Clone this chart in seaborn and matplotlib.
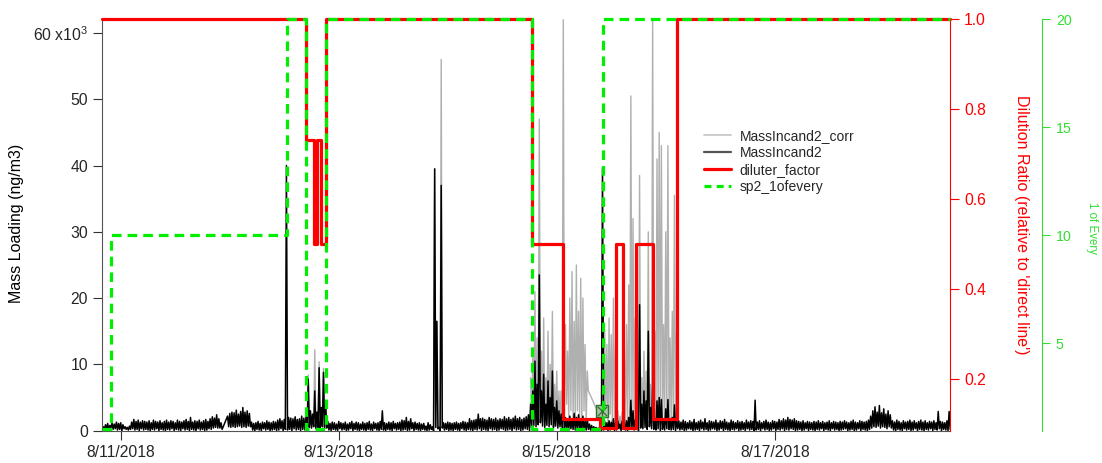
import numpy as np
import pandas as pd
import matplotlib
matplotlib.use("Agg")
import matplotlib.pyplot as plt
from matplotlib.lines import Line2D
import seaborn as sns

nan = np.nan

# ---------------- data ----------------
# mass-loading records, sampled every t_step days after 2018-08-11 00:00
# (hi = sample at t, lo = sample half a step later), values in units of 100 ng/m3
t_start = -0.16
t_step = 0.02

black_hi = [
    6, 9, 11, 8, 12, 10, 13, 11, 12, 9,
    6, 5, 7, 13, 17, 14, 16, 13, 15, 14,
    13, 15, 12, 16, 14, 13, 15, 12, 14, 16,
    13, 15, 14, 12, 16, 14, 13, 15, 17, 14,
    20, 13, 15, 14, 16, 13, 15, 17, 14, 18,
    21, 19, 24, 18, 12, nan, nan, 22, 26, 28,
    27, 31, 25, 29, 35, 28, 30, 26, 13, 11,
    12, 14, 11, 13, 12, 15, 13, 12, 14, 13,
    16, 18, 15, 17, 400, 20, 19, 18, 21, 17,
    18, 22, 19, 21, 78, 30, 25, 60, 28, 95,
    35, 88, 40, 14, 11, 13, 12, 10, 14, 12,
    11, 13, 10, 12, 14, 11, 13, 12, 10, 13,
    11, 12, 14, 10, 13, 11, 12, 14, 30, 12,
    11, 13, 12, 14, 11, 12, 13, 16, 15, 20,
    14, 18, 12, 13, 11, 12, 10, 11, 7, 12,
    9, 6, 395, 165, 5, 370, 12, 11, 13, 12,
    11, 12, 13, 11, 12, 14, 13, 12, 18, 15,
    16, 17, 25, 18, 19, 17, 16, 20, 18, 17,
    19, 16, 18, 17, 21, 18, 20, 17, 19, 22,
    18, 20, 17, 19, 21, 24, 40, 60, 105, 70,
    235, 60, 85, 40, 75, 50, 90, 35, 45, 30,
    25, 55, 20, 15, 22, 18, 26, 20, 24, 15,
    22, 14, 18, 10, 8, 6, 5, 4, 8, 396,
    14, 12, 15, 13, 18, 12, 15, 10, 14, 12,
    15, 20, 46, 30, 16, 25, 190, 40, 60, 45,
    150, 35, 68, 16, 45, 50, 47, 18, 33, 47,
    15, 20, 39, 16, 15, 13, 16, 14, 12, 15,
    13, 17, 12, 14, 16, 13, 18, 12, 15, 14,
    13, 16, 12, 15, 14, 17, 13, 12, 16, 14,
    12, 15, 13, 14, 12, 16, 13, 15, 14, 46,
    13, 15, 12, 14, 16, 13, 12, 15, 14, 13,
    17, 15, 18, 16, 20, 17, 16, 18, 15, 14,
    13, 15, 12, 14, 13, 12, 14, 13, 15, 12,
    14, 12, 13, 15, 12, 14, 13, 12, 14, 13,
    15, 13, 12, 14, 16, 13, 12, 15, 14, 13,
    14, 16, 22, 30, 36, 28, 38, 27, 33, 25,
    30, 24, 15, 13, 16, 14, 12, 15, 13, 14,
    16, 13, 15, 12, 14, 16, 13, 15, 12, 14,
    13, 15, 12, 29, 14, 13, 12, 15, 29,
]
black_lo = [
    2, 3, 1, 4, 2, 3, 1, 2, 0, 3,
    2, 1, 2, 3, 1, 2, 0, 3, 1, 2,
    1, 0, 2, 1, 3, 0, 2, 1, 0, 2,
    1, 3, 0, 2, 1, 0, 3, 1, 2, 0,
    2, 1, 0, 3, 1, 2, 0, 1, 3, 2,
    4, 5, 4, 4, 2, nan, nan, 6, 5, 6,
    5, 6, 7, 5, 6, 5, 7, 6, 1, 0,
    2, 1, 0, 3, 1, 2, 0, 1, 2, 0,
    1, 3, 0, 2, 1, 2, 0, 3, 1, 2,
    0, 2, 1, 3, 5, 4, 6, 3, 5, 4,
    6, 3, 4, 1, 0, 2, 1, 0, 3, 1,
    2, 0, 1, 3, 0, 2, 1, 0, 2, 1,
    0, 2, 1, 0, 3, 1, 0, 2, 1, 0,
    2, 1, 0, 3, 1, 2, 0, 1, 2, 0,
    1, 3, 0, 2, 1, 0, 2, 1, 0, 1,
    2, 0, 5, 3, 0, 4, 1, 2, 0, 1,
    0, 2, 1, 0, 3, 1, 0, 2, 1, 0,
    2, 1, 3, 0, 2, 1, 0, 3, 1, 2,
    0, 1, 3, 2, 0, 1, 2, 0, 3, 1,
    2, 0, 1, 3, 2, 0, 5, 8, 6, 9,
    12, 7, 5, 8, 6, 9, 5, 7, 4, 6,
    3, 2, 4, 1, 3, 2, 1, 3, 2, 1,
    3, 1, 2, 1, 0, 1, 0, 1, 0, 1,
    2, 0, 1, 2, 0, 1, 3, 0, 2, 1,
    0, 2, 3, 1, 2, 0, 4, 3, 5, 2,
    6, 3, 2, 1, 3, 0, 2, 1, 3, 2,
    1, 2, 0, 3, 1, 2, 0, 1, 3, 2,
    0, 1, 2, 0, 3, 1, 2, 0, 1, 3,
    2, 0, 1, 3, 0, 2, 1, 0, 2, 1,
    3, 0, 1, 2, 0, 3, 1, 2, 0, 1,
    2, 0, 3, 1, 2, 0, 1, 3, 0, 2,
    1, 3, 0, 2, 1, 3, 2, 0, 1, 2,
    0, 1, 3, 0, 2, 1, 0, 2, 1, 3,
    0, 2, 1, 0, 3, 1, 2, 0, 1, 2,
    3, 0, 1, 2, 0, 1, 3, 0, 2, 1,
    0, 2, 4, 6, 5, 7, 4, 6, 5, 3,
    6, 4, 1, 0, 2, 1, 0, 3, 1, 2,
    0, 1, 3, 0, 2, 1, 0, 2, 1, 3,
    0, 2, 1, 3, 0, 2, 1, 0, 2,
]

# corrected mass loading where it differs from MassIncand2 (same sampling grid)
corr_a_start = 93
corr_a_hi = [21, 84, 30, 25, 122, 28, 104, 35, 94, 40]
corr_a_lo = [3, 5, 4, 6, 3, 5, 4, 6, 3, 4]
corr_b_start = 151
corr_b_hi = [6, 395, 165, 5, 560, 12]
corr_b_lo = [0, 5, 3, 0, 4, 1]
corr_c_start = 196
corr_c_hi = [
    80, 120, 210, 140,
    470, 120, 170, 80, 150, 100, 180, 70, 90, 60,
    60, 620, 160, 120, 200, 240, 165, 250, 180, 230,
    200, 130, 90, nan, nan, nan, nan, nan, 20, 130,
    150, 130, 170, 145, 200, 135, 30, 22, 28, 130,
    160, 220, 505, 320, 170, 50, 385, 80, 120, 90,
    300, 70, 620, 150, 410, 450, 430, 160, 300, 430,
    140, 180, 355, 150,
]
corr_c_lo = [
    10, 16, 12, 18,
    24, 14, 10, 16, 12, 18, 10, 14, 8, 12,
    20, 25, 40, 15, 30, 20, 12, 30, 20, 10,
    30, 10, 60, nan, nan, nan, nan, nan, 8, 12,
    20, 10, 25, 15, 10, 20, 6, 2, 4, 12,
    10, 25, 30, 12, 20, 6, 8, 5, 10, 4,
    12, 6, 20, 10, 25, 15, 20, 10, 25, 15,
    10, 20, 12, 8,
]

# diluter factor (step changes), days after 2018-08-11
dil_t = [-0.172, 1.700, 1.776, 1.798, 1.838, 1.884, 3.774, 4.055,
         4.397, 4.541, 4.611, 4.725, 4.881, 5.106, 7.608]
dil_v = [1.0, 0.73, 0.5, 0.73, 0.5, 1.0, 0.5, 0.11,
         0.09, 0.5, 0.09, 0.5, 0.11, 1.0, 1.0]

# sp2 "1 of every" setting
sp2_t = [-0.172, -0.089, 1.523, 1.700, 1.884, 3.774, 4.428, 7.608]
sp2_v = [1, 10, 20, 1, 20, 1, 20, 20]

# tag marker
tag_t = [4.413]
tag_v = [2900]

x_range = [-0.172, 7.608]
xtick_days = [0, 2, 4, 6]
xtick_labels = ["8/11/2018", "8/13/2018", "8/15/2018", "8/17/2018"]
mass_ticks = [0, 10000, 20000, 30000, 40000, 50000, 60000]
mass_tick_labels = ["0", "10", "20", "30", "40", "50", r"60 x10$^{3}$"]
mass_range = [0, 62100]
dil_ticks = [0.2, 0.4, 0.6, 0.8, 1.0]
dil_tick_labels = ["0.2", "0.4", "0.6", "0.8", "1.0"]
dil_range = [0.0851, 1.0]
sp2_ticks = [5, 10, 15, 20]
sp2_range = [0.94, 20]

legend_labels = ["MassIncand2_corr", "MassIncand2", "diluter_factor", "sp2_1ofevery"]

# ---------------- helpers ----------------
base = pd.Timestamp("2018-08-11")


def to_dt(days):
    return base + pd.to_timedelta(np.asarray(days, dtype=float), unit="D")


def zigzag(start_idx, hi, lo):
    hi = np.asarray(hi, dtype=float)
    lo = np.asarray(lo, dtype=float)
    idx = np.arange(start_idx, start_idx + len(hi))
    t = t_start + t_step * idx
    tt = np.column_stack([t, t + t_step / 2]).ravel()
    vv = np.column_stack([hi, lo]).ravel() * 100.0
    return tt, vv


# ---------------- style ----------------
sns.set_style("ticks")
plt.rcParams["font.family"] = ["Liberation Sans", "DejaVu Sans"]
plt.rcParams["mathtext.fontset"] = "custom"
plt.rcParams["mathtext.rm"] = "Liberation Sans"
plt.rcParams["mathtext.it"] = "Liberation Sans:italic"
plt.rcParams["mathtext.default"] = "regular"
plt.rcParams["path.simplify"] = False

RED = "#ff0000"
GREEN = "#00ee00"
GREEN_AX = "#33dd33"
GRAY = "#b0b0b0"

fig = plt.figure(figsize=(11.02, 4.63), dpi=100)
ax = fig.add_axes([0.09256, 0.06976, 0.76951, 0.8892])
ax2 = ax.twinx()
ax3 = ax.twinx()

# ---------------- mass loading ----------------
segs = []
for k, (s, h, l) in enumerate([(corr_a_start, corr_a_hi, corr_a_lo),
                               (corr_b_start, corr_b_hi, corr_b_lo),
                               (corr_c_start, corr_c_hi, corr_c_lo)]):
    tt, vv = zigzag(s, h, l)
    segs.append(pd.DataFrame({"time": to_dt(tt), "mass": vv, "seg": k}))
gray_df = pd.concat(segs, ignore_index=True).dropna()
sns.lineplot(data=gray_df, x="time", y="mass", units="seg", estimator=None,
             sort=False, color=GRAY, lw=1.0, ax=ax, legend=False)

tt, vv = zigzag(0, black_hi, black_lo)
black_df = pd.DataFrame({"time": to_dt(tt), "mass": vv}).dropna()
sns.lineplot(data=black_df, x="time", y="mass", estimator=None, sort=False,
             color="black", lw=1.1, ax=ax, legend=False)

sns.scatterplot(x=to_dt(tag_t), y=tag_v, marker="s", s=75, color="#a8c8a0",
                edgecolor="#2e6e2e", linewidth=1.0, ax=ax, zorder=6, legend=False)
sns.scatterplot(x=to_dt(tag_t), y=tag_v, marker="x", s=45, color="#2e6e2e",
                linewidth=0.9, ax=ax, zorder=7, legend=False)
sns.scatterplot(x=to_dt(tag_t), y=tag_v, marker="|", s=60, color="#2e6e2e",
                linewidth=0.9, ax=ax, zorder=7, legend=False)

# ---------------- diluter factor ----------------
sns.lineplot(x=to_dt(dil_t), y=dil_v, estimator=None, sort=False,
             drawstyle="steps-post", color=RED, lw=2.3, ax=ax2,
             clip_on=False, legend=False)

# ---------------- sp2 1 of every ----------------
sns.lineplot(x=to_dt(sp2_t), y=sp2_v, estimator=None, sort=False,
             drawstyle="steps-post", color=GREEN, lw=2.3, ax=ax3,
             clip_on=False, legend=False)
for ln in ax3.get_lines():
    ln.set_dashes((3.0, 1.9))

# ---------------- axes ----------------
xlim = to_dt(x_range)
ax.set_xlim(xlim[0], xlim[1])
ax.set_xticks(to_dt(xtick_days))
ax.set_xticklabels(xtick_labels)
ax.set_ylim(*mass_range)
ax.set_yticks(mass_ticks)
ax.set_yticklabels(mass_tick_labels)
ax.set_xlabel("")
ax.set_ylabel("")
ax.tick_params(axis="both", direction="out", length=6.5, width=0.8,
               labelsize=11.3, pad=3.5, color="#333333")
ax.minorticks_off()
for side in ["top", "right"]:
    ax.spines[side].set_visible(False)
for side in ["left", "bottom"]:
    ax.spines[side].set_color("#555555")
    ax.spines[side].set_linewidth(0.8)

ax2.set_ylim(*dil_range)
ax2.set_yticks(dil_ticks)
ax2.set_yticklabels(dil_tick_labels)
ax2.set_ylabel("")
ax2.tick_params(axis="y", direction="out", length=6.5, width=0.8,
                labelsize=11.3, pad=3.5, colors=RED)
for side in ["top", "left", "bottom"]:
    ax2.spines[side].set_visible(False)
ax2.spines["right"].set_color(RED)
ax2.spines["right"].set_linewidth(0.8)

ax3.set_ylim(*sp2_range)
ax3.set_yticks(sp2_ticks)
ax3.set_ylabel("")
ax3.spines["right"].set_position(("axes", 1.1085))
ax3.tick_params(axis="y", direction="out", length=6, width=0.8,
                labelsize=10.2, pad=4, colors=GREEN_AX)
for side in ["top", "left", "bottom"]:
    ax3.spines[side].set_visible(False)
ax3.spines["right"].set_color(GREEN_AX)
ax3.spines["right"].set_linewidth(0.8)

# axis titles
fig.text(17 / 1102, 1 - 223 / 463, "Mass Loading (ng/m3)", rotation=90,
         ha="center", va="center", fontsize=11.5, color="black")
fig.text(1021.5 / 1102, 1 - 225 / 463, "Dilution Ratio (relative to 'direct line')",
         rotation=270, ha="center", va="center", fontsize=11.5, color=RED)
fig.text(1091.5 / 1102, 1 - 228 / 463, "1 of Every", rotation=270,
         ha="center", va="center", fontsize=8.3, color=GREEN_AX)

# legend
handles = [
    Line2D([], [], color="#c4c4c4", lw=1.2),
    Line2D([], [], color="#555555", lw=1.6),
    Line2D([], [], color=RED, lw=2.3),
    Line2D([], [], color=GREEN, lw=2.3, dashes=(2.2, 1.6)),
]
fig.legend(handles, legend_labels, loc="upper left",
           bbox_to_anchor=(0.636, 0.727), frameon=False, fontsize=10,
           handlelength=2.0, handletextpad=0.6, labelspacing=0.22,
           borderpad=0.2, borderaxespad=0.0)

fig.savefig("out.png", dpi=100)
